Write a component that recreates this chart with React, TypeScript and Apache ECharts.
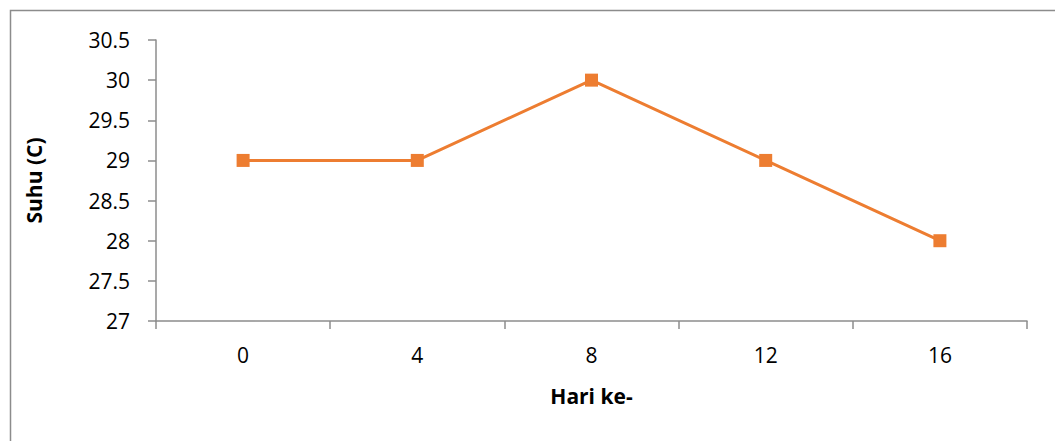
import React, { useEffect, useRef } from "react";
import * as echarts from "echarts";

const days = ["0", "4", "8", "12", "16"];
const temperatures = [29, 29, 30, 29, 28];
const yMin = 27;
const yMax = 30.5;
const yStep = 0.5;

const FONT = "'Open Sans', 'Noto Sans', sans-serif";

export default function App() {
  const ref = useRef<HTMLDivElement>(null);

  useEffect(() => {
    document.body.style.margin = "0";
    const chart = echarts.init(ref.current!, null, { renderer: "svg" });
    chart.setOption({
      animation: false,
      backgroundColor: "#ffffff",
      graphic: [
        {
          type: "rect",
          shape: { x: 10.5, y: 10.5, width: 1200, height: 600 },
          style: { fill: "none", stroke: "#8c8c8c", lineWidth: 1.5 },
          z: 0,
        },
      ],
      grid: { left: 156, right: 28, top: 40, bottom: 120 },
      xAxis: {
        type: "category",
        data: days,
        boundaryGap: true,
        name: "Hari ke-",
        nameLocation: "middle",
        nameGap: 64,
        nameTextStyle: { fontFamily: FONT, fontWeight: "bold", fontSize: 21, color: "#000" },
        axisLine: { lineStyle: { color: "#8c8c8c", width: 1.5 } },
        axisTick: { show: true, length: 8, lineStyle: { color: "#8c8c8c", width: 1.5 } },
        axisLabel: { fontFamily: FONT, fontSize: 21, color: "#000", margin: 23 },
        splitLine: { show: false },
      },
      yAxis: {
        type: "value",
        min: yMin,
        max: yMax,
        interval: yStep,
        name: "Suhu (C)",
        nameLocation: "middle",
        nameRotate: 90,
        nameGap: 112,
        nameTextStyle: { fontFamily: FONT, fontWeight: "bold", fontSize: 21, color: "#000" },
        axisLine: { show: true, lineStyle: { color: "#8c8c8c", width: 1.5 } },
        axisTick: { show: true, length: 8, lineStyle: { color: "#8c8c8c", width: 1.5 } },
        axisLabel: { fontFamily: FONT, fontSize: 21, color: "#000", margin: 26 },
        splitLine: { show: false },
      },
      series: [
        {
          type: "line",
          data: temperatures,
          symbol: "rect",
          symbolSize: 13,
          lineStyle: { color: "#ED7D31", width: 3 },
          itemStyle: { color: "#ED7D31" },
        },
      ],
    });
    return () => chart.dispose();
  }, []);

  return <div ref={ref} style={{ width: 1055, height: 441 }} />;
}
